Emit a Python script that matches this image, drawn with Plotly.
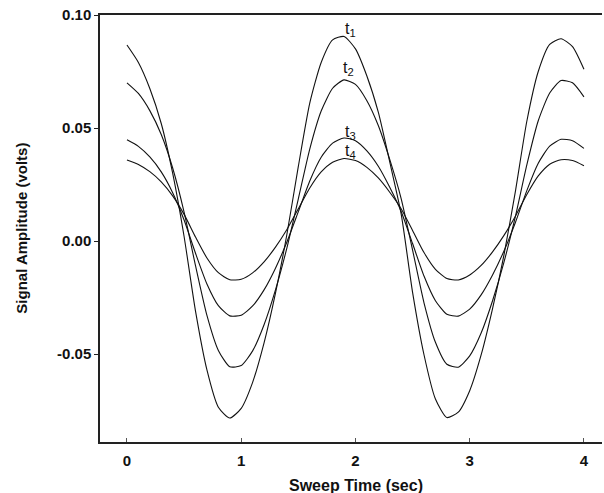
import plotly.graph_objects as go

time_s = [round(0.1 * i, 1) for i in range(41)]

t1 = [0.0867, 0.0790, 0.0675, 0.0520, 0.0300, 0.0020, -0.0310, -0.0570, -0.0735, -0.0783,
      -0.0740, -0.0625, -0.0450, -0.0230, 0.0030, 0.0330, 0.0610, 0.0790, 0.0890, 0.0905,
      0.0850, 0.0730, 0.0570, 0.0350, 0.0120, -0.0227, -0.0503, -0.0699, -0.0781, -0.0757,
      -0.0662, -0.0504, -0.0299, -0.0061, 0.0220, 0.0530, 0.0750, 0.0870, 0.0895, 0.0860,
      0.0760]
t2 = [0.0700, 0.0653, 0.0577, 0.0471, 0.0323, 0.0128, -0.0109, -0.0329, -0.0484, -0.0556,
      -0.0551, -0.0486, -0.0370, -0.0216, -0.0030, 0.0187, 0.0407, 0.0575, 0.0676, 0.0713,
      0.0693, 0.0621, 0.0511, 0.0361, 0.0188, -0.0040, -0.0273, -0.0448, -0.0545, -0.0558,
      -0.0508, -0.0407, -0.0264, -0.0093, 0.0109, 0.0337, 0.0532, 0.0655, 0.0710, 0.0700,
      0.0638]
t3 = [0.0448, 0.0419, 0.0372, 0.0306, 0.0214, 0.0093, -0.0054, -0.0190, -0.0286, -0.0331,
      -0.0328, -0.0287, -0.0216, -0.0120, -0.0004, 0.0130, 0.0266, 0.0371, 0.0433, 0.0456,
      0.0444, 0.0399, 0.0331, 0.0238, 0.0131, -0.0011, -0.0155, -0.0264, -0.0324, -0.0332,
      -0.0301, -0.0238, -0.0150, -0.0044, 0.0082, 0.0223, 0.0344, 0.0420, 0.0450, 0.0444,
      0.0410]
t4 = [0.0359, 0.0339, 0.0307, 0.0262, 0.0200, 0.0118, 0.0018, -0.0075, -0.0140, -0.0171,
      -0.0169, -0.0141, -0.0092, -0.0027, 0.0051, 0.0143, 0.0235, 0.0306, 0.0349, 0.0365,
      0.0356, 0.0326, 0.0279, 0.0216, 0.0143, 0.0047, -0.0051, -0.0125, -0.0166, -0.0172,
      -0.0150, -0.0108, -0.0048, 0.0025, 0.0110, 0.0206, 0.0288, 0.0340, 0.0360, 0.0356,
      0.0333]

series = [t1, t2, t3, t4]
label_text = ["t<sub>1</sub>", "t<sub>2</sub>", "t<sub>3</sub>", "t<sub>4</sub>"]
label_x = [1.96, 1.94, 1.96, 1.96]
label_y = [0.0938, 0.0765, 0.0482, 0.0394]

x_ticks = [0, 1, 2, 3, 4]
y_ticks = [0.10, 0.05, 0.00, -0.05]
y_tick_text = ["0.10", "0.05", "0.00", "-0.05"]

x_title = "Sweep Time (sec)"
y_title = "Signal Amplitude (volts)"

FONT = "Liberation Sans, Arial, sans-serif"

fig = go.Figure()
for ys in series:
    fig.add_trace(go.Scatter(x=time_s, y=ys, mode="lines",
                             line=dict(color="#111111", width=1.1, shape="spline", smoothing=0.6),
                             showlegend=False, hoverinfo="skip"))

for txt, lx, ly in zip(label_text, label_x, label_y):
    fig.add_annotation(x=lx, y=ly, text=txt, showarrow=False,
                       font=dict(family=FONT, size=16, color="#111111"))

# axis titles
fig.add_annotation(xref="paper", yref="paper", x=0.51, y=-0.101, text=x_title,
                   showarrow=False, xanchor="center", yanchor="middle",
                   font=dict(family=FONT, size=16, weight="bold", color="#111111"))
fig.add_annotation(xref="paper", yref="paper", x=-0.157, y=0.50, text=y_title,
                   showarrow=False, xanchor="center", yanchor="middle", textangle=-90,
                   font=dict(family=FONT, size=15, weight="bold", color="#111111"))

fig.update_layout(
    width=604, height=493,
    margin=dict(l=100, r=2, t=15, b=51),
    paper_bgcolor="white", plot_bgcolor="white",
    font=dict(family=FONT, color="#111111"),
)
fig.update_xaxes(
    range=[-0.236, 4.158], tickvals=x_ticks, ticktext=[str(v) for v in x_ticks],
    ticks="inside", ticklen=4, tickcolor="#555555", tickwidth=1,
    showline=True, linecolor="#222222", linewidth=1.5, mirror=True,
    showgrid=False, zeroline=False, automargin=False, ticklabelstandoff=4,
    tickfont=dict(family=FONT, size=15, weight="bold"),
)
fig.update_yaxes(
    range=[-0.0889, 0.1], tickvals=y_ticks, ticktext=y_tick_text,
    ticks="outside", ticklen=4, tickcolor="#222222", tickwidth=1,
    showline=True, linecolor="#222222", linewidth=1.5, mirror=False,
    showgrid=False, zeroline=False, automargin=False,
    tickfont=dict(family=FONT, size=15, weight="bold"),
)

fig.write_html("out.html", config={"displayModeBar": False},
               post_script="document.body.style.margin='0';")
